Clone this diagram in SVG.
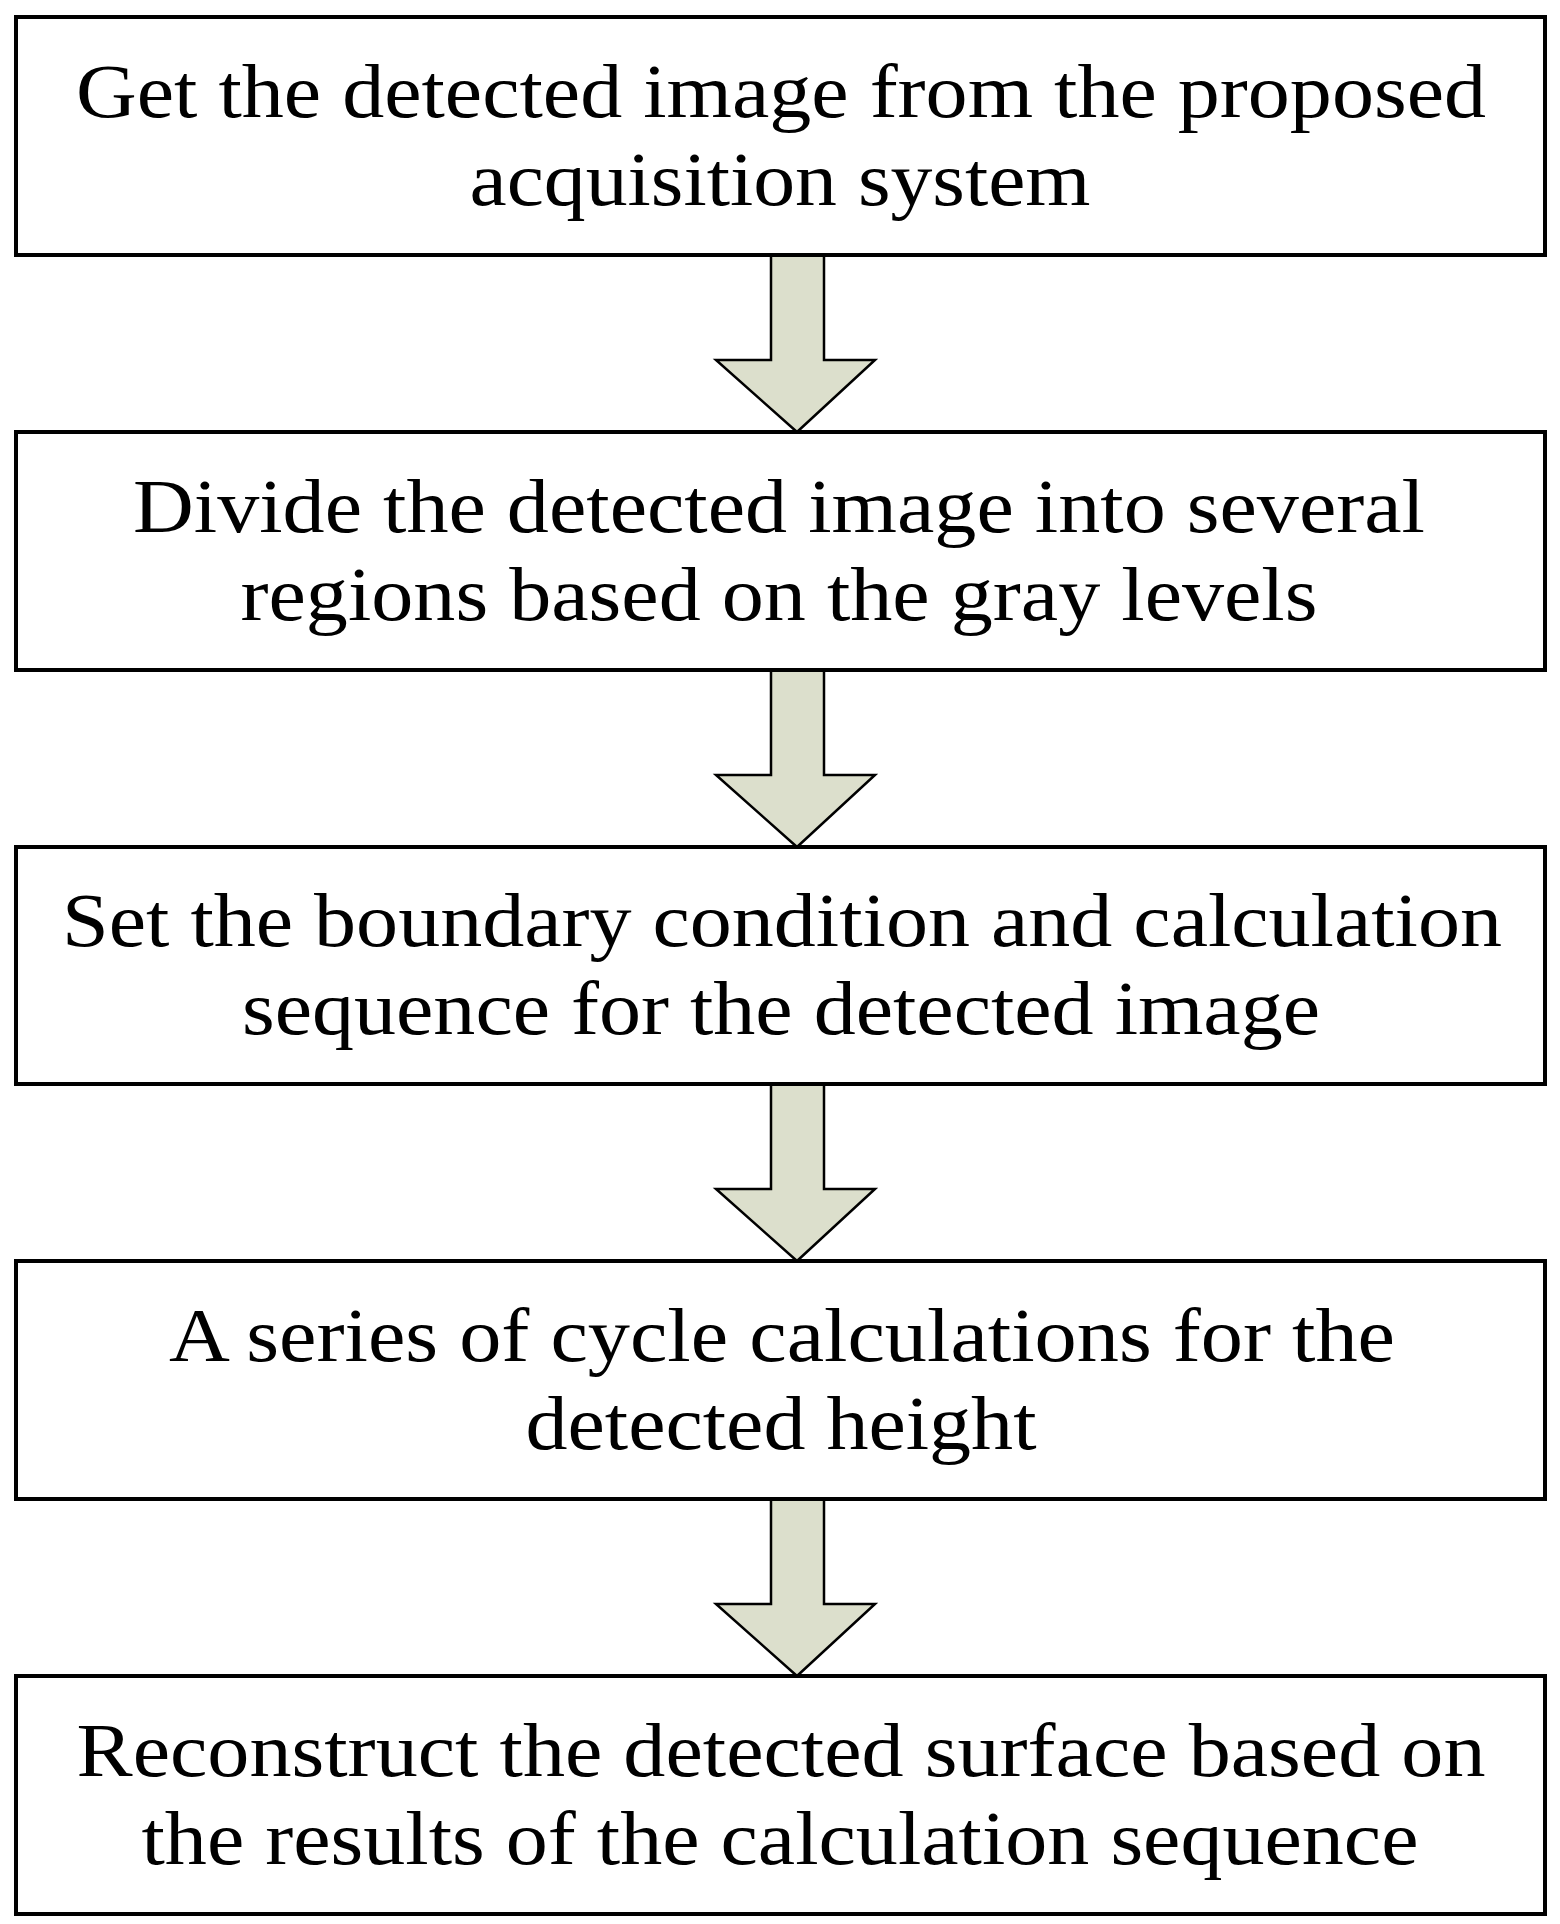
<svg xmlns="http://www.w3.org/2000/svg" width="1560" height="1924" viewBox="0 0 1560 1924">
<style>
.box{fill:#fff;stroke:#000;stroke-width:4}
.arr{fill:#dcdfcc;stroke:#000;stroke-width:2.5}
text{font-family:"Liberation Serif","Times New Roman",serif;font-size:77px;text-anchor:middle;fill:#000}
</style>
<rect width="1560" height="1924" fill="#fff"/>
<g id="connectors">
<path class="arr" d="M771,255 L824,255 L824,360 L875,360 L797,432 L716,360 L771,360 Z"/>
<path class="arr" d="M771,670 L824,670 L824,775 L875,775 L797,847 L716,775 L771,775 Z"/>
<path class="arr" d="M771,1084 L824,1084 L824,1189 L875,1189 L797,1261 L716,1189 L771,1189 Z"/>
<path class="arr" d="M771,1499 L824,1499 L824,1604 L875,1604 L797,1676 L716,1604 L771,1604 Z"/>
</g>
<g id="n1"><rect class="box" x="16" y="17" width="1529" height="238"/>
<text x="781" y="117" textLength="1410" lengthAdjust="spacingAndGlyphs">Get the detected image from the proposed</text><text x="780" y="205" textLength="621" lengthAdjust="spacingAndGlyphs">acquisition system</text></g>
<g id="n2"><rect class="box" x="16" y="432" width="1529" height="238"/>
<text x="779" y="532" textLength="1292" lengthAdjust="spacingAndGlyphs">Divide the detected image into several</text><text x="779" y="620" textLength="1077" lengthAdjust="spacingAndGlyphs">regions based on the gray levels</text></g>
<g id="n3"><rect class="box" x="16" y="847" width="1529" height="237"/>
<text x="782" y="946" textLength="1440" lengthAdjust="spacingAndGlyphs">Set the boundary condition and calculation</text><text x="781" y="1034" textLength="1078" lengthAdjust="spacingAndGlyphs">sequence for the detected image</text></g>
<g id="n4"><rect class="box" x="16" y="1261" width="1529" height="238"/>
<text x="782" y="1361" textLength="1226" lengthAdjust="spacingAndGlyphs">A series of cycle calculations for the</text><text x="781" y="1449" textLength="511" lengthAdjust="spacingAndGlyphs">detected height</text></g>
<g id="n5"><rect class="box" x="16" y="1676" width="1529" height="238"/>
<text x="781" y="1776" textLength="1409" lengthAdjust="spacingAndGlyphs">Reconstruct the detected surface based on</text><text x="780" y="1864" textLength="1277" lengthAdjust="spacingAndGlyphs">the results of the calculation sequence</text></g>
</svg>
